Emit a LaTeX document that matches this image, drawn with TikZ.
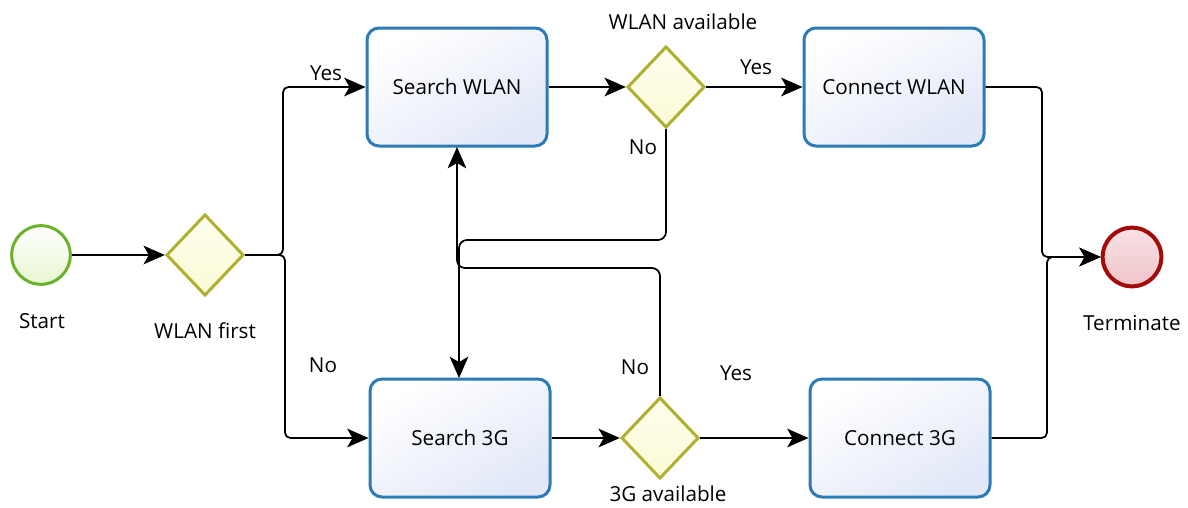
\documentclass[tikz,border=0pt]{standalone}
\usepackage{fontspec}
\setmainfont{Open Sans}
\usetikzlibrary{shapes.geometric,arrows.meta}

\definecolor{taskline}{HTML}{2C7BB6}
\definecolor{taskfill}{HTML}{E2E8F8}
\definecolor{gateline}{HTML}{AFAF30}
\definecolor{gatefill}{HTML}{FBFBD6}
\definecolor{startline}{HTML}{6BB22C}
\definecolor{startfill}{HTML}{E8F5D0}
\definecolor{endline}{HTML}{A30A0A}
\definecolor{endfill}{HTML}{F0C4CA}

\tikzset{
  task/.style={draw=taskline, line width=2.25pt, rounded corners=9pt,
    minimum width=135pt, minimum height=88.5pt, inner sep=0pt,
    top color=white, bottom color=taskfill, shading angle=30,
    font=\fontsize{15.5}{18}\selectfont},
  gateway/.style={diamond, draw=gateline, line width=2.25pt,
    minimum width=58pt, minimum height=61pt, inner sep=0pt,
    top color=white!60!gatefill, bottom color=gatefill},
  startev/.style={circle, draw=startline, line width=2.25pt,
    minimum size=44pt, inner sep=0pt,
    top color=white, bottom color=startfill},
  endev/.style={circle, draw=endline, line width=3pt,
    minimum size=44pt, inner sep=0pt,
    top color=white!50!endfill, bottom color=endfill},
  flowtip/.tip={Stealth[length=16pt,width=14pt,inset=4pt]},
  flow/.style={draw=black, line width=1.3pt, -flowtip},
  lbl/.style={font=\fontsize{15.5}{18}\selectfont, inner sep=0pt}
}

\begin{document}
\begin{tikzpicture}[x=0.75pt, y=-0.75pt]
  \useasboundingbox (0,0) rectangle (1188,507);

  % events
  \node[startev] (start) at (41,255) {};
  \node[endev] (term) at (1132,257) {};

  % gateways
  \node[gateway] (wfirst) at (205,255) {};
  \node[gateway] (wavail) at (666,87) {};
  \node[gateway] (gavail) at (660,438) {};

  % tasks
  \node[task] (swlan) at (457,87) {Search WLAN};
  \node[task] (cwlan) at (894,87) {Connect WLAN};
  \node[task] (s3g) at (460,438) {Search 3G};
  \node[task] (c3g) at (900,438) {Connect 3G};

  % flows
  \draw[flow] (start) -- (wfirst);
  \draw[flow, rounded corners=4pt] (wfirst.east) -- (283,255) -- (283,87) -- (swlan.west);
  \draw[flow, rounded corners=4pt] (wfirst.east) -- (285,255) -- (285,438) -- (s3g.west);
  \draw[flow] (swlan) -- (wavail);
  \draw[flow] (wavail) -- (cwlan);
  \draw[flow] (s3g) -- (gavail);
  \draw[flow] (gavail) -- (c3g);
  \draw[flow, rounded corners=6pt] (wavail.south) -- (666,240) -- (459,240) -- (459,378);
  \draw[flow, rounded corners=6pt] (gavail.north) -- (660,268) -- (457,268) -- (457,147);
  \draw[flow, rounded corners=4pt] (cwlan.east) -- (1042,87) -- (1042,257) -- (term.west);
  \draw[flow, rounded corners=4pt] (c3g.east) -- (1047,438) -- (1047,257) -- (term.west);

  % labels
  \node[lbl] (lstart) at (42,321) {Start};
  \node[lbl] (lwfirst) at (205,331) {WLAN first};
  \node[lbl] (lterm) at (1132,323) {Terminate};
  \node[lbl] (lwavail) at (683,22) {WLAN available};
  \node[lbl] (lgavail) at (668,494) {3G available};
  \node[lbl] (yes1) at (326,73) {Yes};
  \node[lbl] (no1) at (323,365) {No};
  \node[lbl] (yes2) at (756,67) {Yes};
  \node[lbl] (no2) at (643,147) {No};
  \node[lbl] (no3) at (635,367) {No};
  \node[lbl] (yes3) at (736,373) {Yes};
\end{tikzpicture}
\end{document}
